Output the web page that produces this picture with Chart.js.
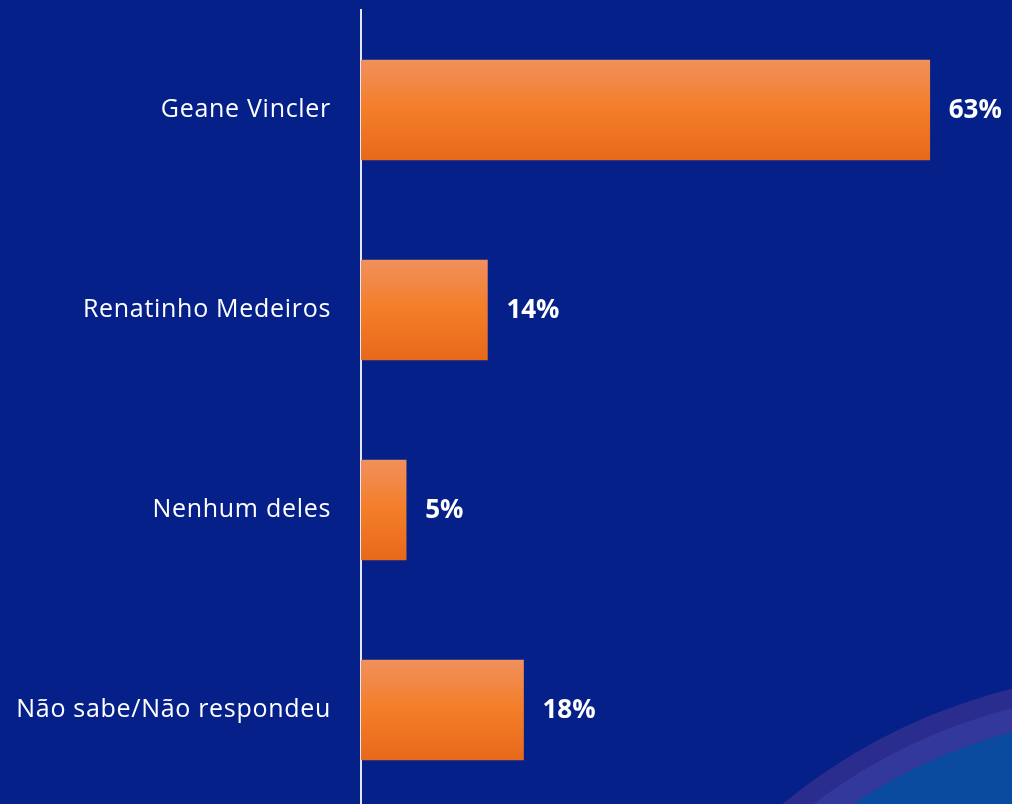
<!DOCTYPE html>
<html>
<head>
<meta charset="utf-8">
<script src="https://cdn.jsdelivr.net/npm/chart.js@4.4.1/dist/chart.umd.min.js"></script>
<style>
  html, body { margin: 0; padding: 0; background: #06208A; overflow: hidden; }
  #wrap { position: relative; width: 1012px; height: 804px; overflow: hidden; }
  #wrap canvas { position: absolute; left: 0; top: 0; }
</style>
</head>
<body>
<div id="wrap"><canvas id="pollChart" width="1012" height="810"></canvas></div>
<script>
// Data
const categories = ['Geane Vincler', 'Renatinho Medeiros', 'Nenhum deles', 'Não sabe/Não respondeu'];
const percentages = [63, 14, 5, 18];

const BAR_THICKNESS = 100;

// Orange gradient per bar, built from the y scale
function barGradient(context) {
  const chart = context.chart;
  const yScale = chart.scales.y;
  if (!yScale) return '#F47C27';
  const yc = yScale.getPixelForValue(context.dataIndex);
  if (!isFinite(yc)) return '#F47C27';
  const g = chart.ctx.createLinearGradient(0, yc - BAR_THICKNESS / 2, 0, yc + BAR_THICKNESS / 2);
  g.addColorStop(0, '#F0905C');
  g.addColorStop(0.5, '#F47D28');
  g.addColorStop(1, '#E7691B');
  return g;
}

// Background + decorative arc in the bottom-right corner
const cornerArcs = {
  id: 'cornerArcs',
  beforeDraw(chart) {
    const c = chart.ctx;
    c.save();
    c.fillStyle = '#06208A';
    c.fillRect(0, 0, chart.width, chart.height);
    const cx = 1150, cy = 1250;
    [[578, '#2A2C8E'], [559, '#33389C'], [536, '#0A4A9F']].forEach(([r, col]) => {
      c.beginPath();
      c.arc(cx, cy, r, 0, Math.PI * 2);
      c.fillStyle = col;
      c.fill();
    });
    c.restore();
    // slightly spaced category labels, like the original
    c.letterSpacing = '0.7px';
  },
  afterDraw(chart) {
    chart.ctx.letterSpacing = '0px';
  }
};

// Value labels at the end of each bar
const valueLabels = {
  id: 'valueLabels',
  afterDatasetsDraw(chart) {
    const c = chart.ctx;
    const meta = chart.getDatasetMeta(0);
    c.save();
    c.letterSpacing = '0px';
    c.font = 'bold 26px "Open Sans"';
    c.fillStyle = '#FFFFFF';
    c.textAlign = 'left';
    c.textBaseline = 'middle';
    meta.data.forEach((bar, i) => {
      c.fillText(percentages[i] + '%', bar.x + 19, bar.y + 1);
    });
    c.restore();
  }
};

const ctx = document.getElementById('pollChart').getContext('2d');
const pollChart = new Chart(ctx, {
  type: 'bar',
  data: {
    labels: categories,
    datasets: [{
      data: percentages,
      backgroundColor: barGradient,
      borderWidth: 0,
      barThickness: BAR_THICKNESS
    }]
  },
  options: {
    indexAxis: 'y',
    responsive: false,
    animation: false,
    layout: { padding: { top: 10, right: 1, bottom: 0, left: 0 } },
    plugins: {
      legend: { display: false },
      tooltip: { enabled: false }
    },
    scales: {
      x: {
        display: false,
        min: 0,
        max: 72
      },
      y: {
        z: 1,
        afterFit(scale) {
          scale.width = 361;
          scale.paddingTop = 0;
          scale.paddingBottom = 0;
        },
        grid: { display: false, drawTicks: false },
        border: { display: true, color: '#E4E6F0', width: 2 },
        ticks: {
          color: '#FFFFFF',
          padding: 30,
          font: { family: '"Open Sans"', size: 25 }
        }
      }
    }
  },
  plugins: [cornerArcs, valueLabels]
});
pollChart.update();
</script>
</body>
</html>
